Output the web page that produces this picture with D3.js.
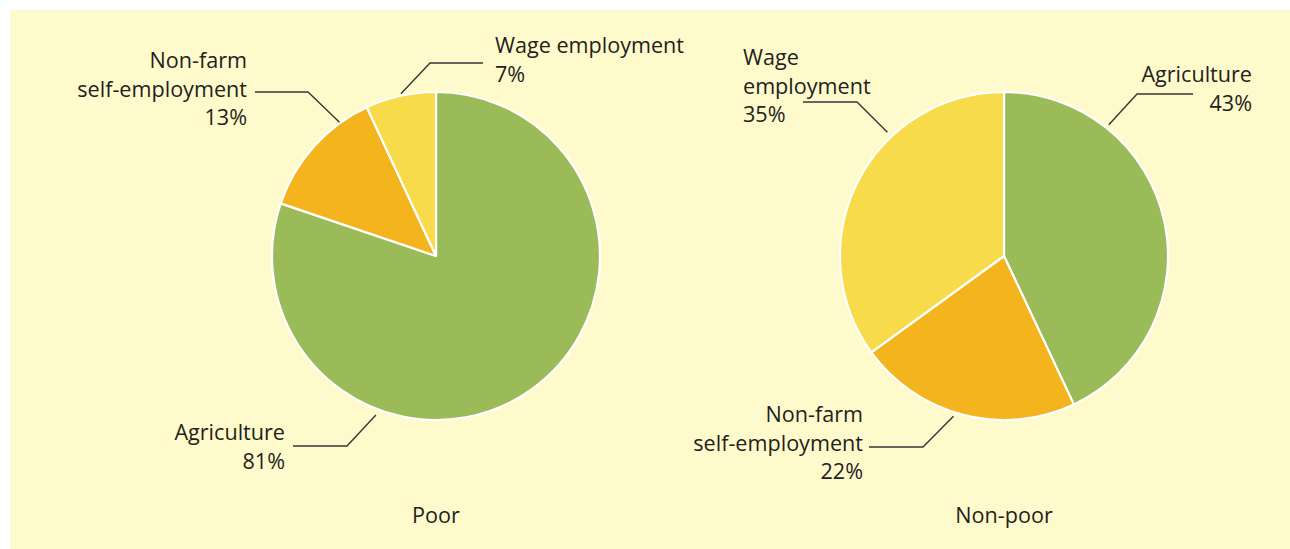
<!DOCTYPE html>
<html>
<head>
<meta charset="utf-8">
<script src="https://cdn.jsdelivr.net/npm/d3@7"></script>
<style>
  html, body { margin: 0; padding: 0; background: #ffffff; }
  svg { display: block; }
  text { font-family: "Open Sans", "Noto Sans", sans-serif; fill: #231f20; }
</style>
</head>
<body>
<svg id="chart" width="1290" height="549"></svg>
<script>
// ---- data ----
const categories = ["Agriculture", "Non-farm self-employment", "Wage employment"];
const poorValues = [81, 13, 7];
const nonPoorValues = [43, 22, 35];
const groupLabels = ["Poor", "Non-poor"];
// how each category name is wrapped in each pie
const poorLabelLines = [["Agriculture"], ["Non-farm", "self-employment"], ["Wage employment"]];
const nonPoorLabelLines = [["Agriculture"], ["Non-farm", "self-employment"], ["Wage", "employment"]];

// ---- styling / layout ----
const colors = ["#9bbb59", "#f4b41e", "#f7db4a"];
const radius = 164;
const lineH = 28.5;
const fontSize = "21.6px";
const pies = [
  { cx: 436, cy: 256, values: poorValues, lines: poorLabelLines, title: groupLabels[0],
    labels: [
      { anchor: "end",   tx: -151, ty: 184,  h0: [-143, 190],  elbow: [-89, 190],   ang: 200.7, r: 170 },
      { anchor: "end",   tx: -189, ty: -188, h0: [-181, -164], elbow: [-128, -164], ang: 324.2, r: 165 },
      { anchor: "start", tx: 59,   ty: -203, h0: [47, -193],   elbow: [-6, -193],   ang: 347.8, r: 166 }
    ] },
  { cx: 1004, cy: 256, values: nonPoorValues, lines: nonPoorLabelLines, title: groupLabels[1],
    labels: [
      { anchor: "end",   tx: 248,  ty: -174, h0: [189, -162],  elbow: [133, -162],  ang: 38.6,  r: 168 },
      { anchor: "end",   tx: -141, ty: 166,  h0: [-135, 191],  elbow: [-81, 191],   ang: 197.5, r: 168 },
      { anchor: "start", tx: -261, ty: -191, h0: [-201, -154], elbow: [-147, -154], ang: 316.7, r: 170 }
    ] }
];

const svg = d3.select("#chart");
svg.append("rect").attr("x", 10).attr("y", 10).attr("width", 1280).attr("height", 539)
  .attr("fill", "#fffacb");

const pie = d3.pie().sort(null).value(d => d);
const arc = d3.arc().innerRadius(0).outerRadius(radius);
const color = d3.scaleOrdinal().domain(categories).range(colors);

pies.forEach(p => {
  const g = svg.append("g").attr("transform", `translate(${p.cx},${p.cy})`);
  const arcs = pie(p.values);
  g.selectAll("path.slice").data(arcs).join("path")
    .attr("class", "slice")
    .attr("d", arc)
    .attr("fill", (d, i) => color(categories[i]))
    .attr("stroke", "#ffffff")
    .attr("stroke-width", 2.2)
    .attr("stroke-linejoin", "round");

  p.labels.forEach((L, i) => {
    const a = L.ang * Math.PI / 180;
    const ex = L.r * Math.sin(a), ey = -L.r * Math.cos(a);
    g.append("path")
      .attr("d", d3.line()([L.h0, L.elbow, [ex, ey]]))
      .attr("fill", "none").attr("stroke", "#3a3536").attr("stroke-width", 1.4);
    const txt = g.append("text").attr("text-anchor", L.anchor).style("font-size", fontSize);
    const lines = p.lines[i].concat([p.values[i] + "%"]);
    lines.forEach((s, k) => {
      txt.append("tspan").attr("x", L.tx).attr("y", L.ty + k * lineH).text(s);
    });
  });

  svg.append("text").attr("x", p.cx).attr("y", 523).attr("text-anchor", "middle")
    .style("font-size", fontSize).text(p.title);
});
</script>
</body>
</html>
